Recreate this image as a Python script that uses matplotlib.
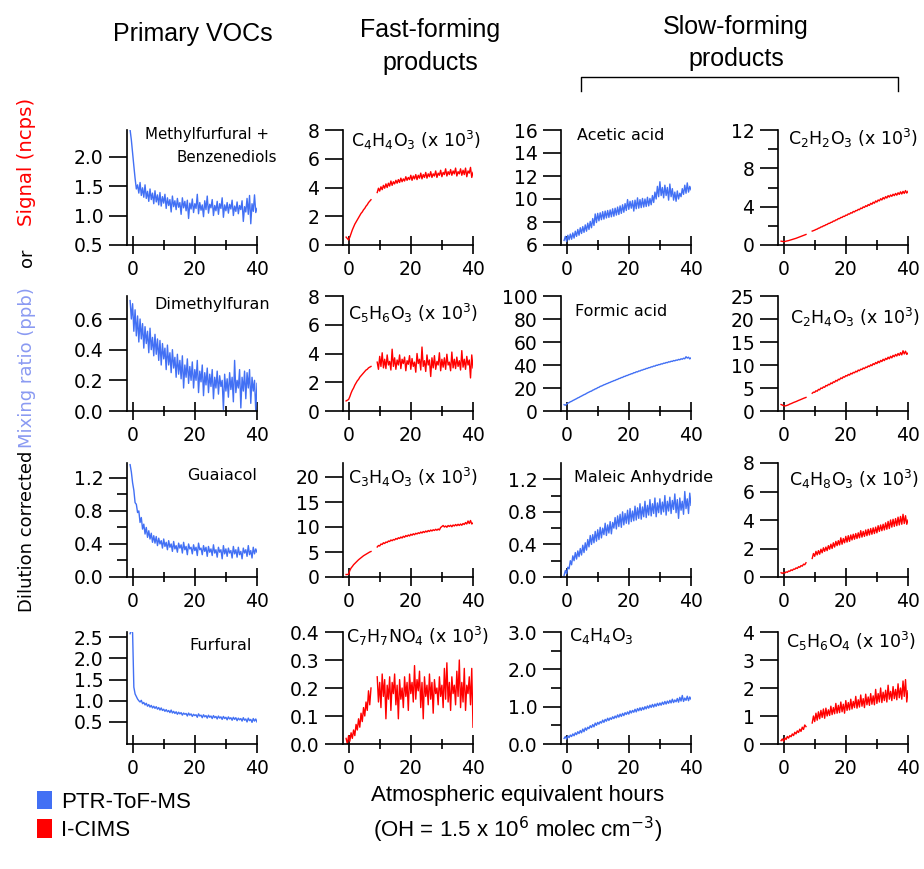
import numpy as np
import matplotlib.pyplot as plt
from matplotlib.patches import Patch
from matplotlib.lines import Line2D
from matplotlib.ticker import FixedLocator, FormatStrFormatter

nan = np.nan
W, H = 924, 869

# sampling grid, atmospheric equivalent hours
hours = np.round(np.arange(-0.8, 40.01, 0.4), 1)

# --- PTR-ToF-MS (ppb) ---
methylfurfural = [
    2.45, 2.28, 2.06, 1.84, 1.63, 1.45, 1.52, 1.38, 1.56, 1.34,
    1.47, 1.31, 1.52, 1.29, 1.41, 1.24, 1.45, 1.27, 1.38, 1.2,
    1.42, 1.23, 1.35, 1.18, 1.39, 1.16, 1.32, 1.21, 1.36, 1.12,
    1.3, 1.17, 1.27, 1.06, 1.33, 1.15, 1.25, 1.1, 1.29, 1.14,
    1.22, 1.02, 1.3, 1.13, 1.24, 1.08, 1.26, 0.95, 1.21, 1.11,
    1.28, 1.05, 1.2, 1.12, 1.36, 1.03, 1.22, 1.09, 1.18, 0.98,
    1.25, 1.1, 1.33, 1.04, 1.19, 1.13, 1.27, 1.0, 1.17, 1.08,
    1.24, 1.02, 1.2, 1.12, 1.3, 0.97, 1.18, 1.08, 1.22, 1.04,
    1.19, 1.11, 1.26, 1.0, 1.16, 1.07, 1.23, 1.03, 1.17, 1.1,
    1.25, 0.9, 1.15, 1.06, 1.29, 1.02, 1.34, 0.86, 1.2, 1.07,
    1.35, 1.05, 1.12]
dimethylfuran = [
    0.72, 0.6, 0.7, 0.52, 0.66, 0.49, 0.62, 0.45, 0.6, 0.47,
    0.57, 0.41, 0.55, 0.44, 0.52, 0.38, 0.54, 0.4, 0.48, 0.36,
    0.5, 0.37, 0.47, 0.33, 0.46, 0.3, 0.44, 0.34, 0.41, 0.27,
    0.43, 0.3, 0.38, 0.25, 0.4, 0.28, 0.35, 0.22, 0.37, 0.24,
    0.33, 0.21, 0.36, 0.15, 0.3, 0.22, 0.34, 0.18, 0.29, 0.2,
    0.32, 0.15, 0.27, 0.2, 0.33, 0.12, 0.26, 0.19, 0.3, 0.1,
    0.25, 0.17, 0.28, 0.12, 0.24, 0.16, 0.27, 0.08, 0.22, 0.15,
    0.26, 0.11, 0.23, 0.16, 0.2, 0.01, 0.24, 0.13, 0.21, 0.09,
    0.25, 0.14, 0.22, 0.06, 0.33, 0.12, 0.2, 0.15, 0.27, 0.02,
    0.22, 0.13, 0.26, 0.08, 0.25, 0.15, 0.27, 0.05, 0.22, 0.13,
    0.2, 0.0, 0.18]
guaiacol = [
    1.36, 1.27, 1.14, 1.05, 0.9, 0.88, 0.78, 0.8, 0.66, 0.72,
    0.58, 0.64, 0.52, 0.6, 0.48, 0.56, 0.46, 0.53, 0.42, 0.5,
    0.41, 0.49, 0.38, 0.47, 0.4, 0.44, 0.35, 0.46, 0.37, 0.42,
    0.33, 0.44, 0.36, 0.4, 0.31, 0.43, 0.34, 0.38, 0.3, 0.41,
    0.35, 0.39, 0.29, 0.42, 0.33, 0.37, 0.27, 0.4, 0.34, 0.36,
    0.28, 0.39, 0.32, 0.36, 0.26, 0.41, 0.33, 0.35, 0.27, 0.38,
    0.31, 0.36, 0.25, 0.37, 0.3, 0.34, 0.26, 0.39, 0.29, 0.33,
    0.24, 0.36, 0.3, 0.33, 0.22, 0.38, 0.28, 0.34, 0.25, 0.35,
    0.29, 0.32, 0.23, 0.37, 0.28, 0.33, 0.24, 0.36, 0.27, 0.31,
    0.22, 0.35, 0.29, 0.33, 0.25, 0.38, 0.27, 0.32, 0.23, 0.36,
    0.28, 0.34, 0.3]
furfural = [
    2.58, 2.68, 2.6, 1.32, 1.16, 1.1, 1.04, 1.0, 0.97, 1.01,
    0.93, 0.96, 0.9, 0.94, 0.87, 0.91, 0.85, 0.89, 0.83, 0.87,
    0.82, 0.86, 0.8, 0.84, 0.78, 0.83, 0.77, 0.8, 0.75, 0.79,
    0.74, 0.77, 0.72, 0.78, 0.71, 0.75, 0.7, 0.74, 0.68, 0.73,
    0.69, 0.72, 0.66, 0.71, 0.68, 0.7, 0.64, 0.71, 0.66, 0.69,
    0.63, 0.68, 0.65, 0.67, 0.61, 0.69, 0.64, 0.66, 0.6, 0.67,
    0.62, 0.65, 0.59, 0.66, 0.61, 0.64, 0.58, 0.65, 0.6, 0.63,
    0.57, 0.64, 0.59, 0.62, 0.56, 0.63, 0.58, 0.61, 0.55, 0.62,
    0.57, 0.6, 0.54, 0.61, 0.56, 0.6, 0.53, 0.59, 0.55, 0.58,
    0.52, 0.6, 0.54, 0.57, 0.5, 0.59, 0.53, 0.56, 0.49, 0.58,
    0.52, 0.57, 0.5]
acetic_acid = [
    6.4, 6.75, 6.3, 6.85, 6.45, 6.95, 6.5, 7.05, 6.6, 7.2,
    6.75, 7.35, 6.85, 7.5, 7.0, 7.6, 7.1, 7.75, 7.2, 7.9,
    7.35, 8.05, 7.5, 8.3, 7.7, 8.7, 7.95, 8.75, 8.1, 8.8,
    8.2, 8.9, 8.25, 8.95, 8.35, 9.0, 8.4, 9.05, 8.45, 9.15,
    8.5, 9.2, 8.6, 9.3, 8.65, 9.4, 8.75, 9.5, 8.85, 9.6,
    9.0, 9.95, 9.1, 9.8, 9.2, 9.85, 8.95, 9.9, 9.15, 10.1,
    9.2, 9.95, 9.25, 10.05, 9.3, 10.0, 9.35, 10.15, 9.4, 10.05,
    9.5, 10.3, 9.7, 10.6, 10.0, 11.1, 10.2, 11.5, 10.3, 11.0,
    10.1, 11.2, 10.3, 11.0, 9.9, 11.3, 10.2, 10.9, 9.9, 10.6,
    9.8, 10.7, 10.0, 10.5, 10.2, 10.9, 10.4, 11.2, 10.5, 11.4,
    10.6, 11.1, 10.8]
formic_acid = [
    5.5, 5.0, 6.0, 6.8, 7.3, 8.0, 8.4, 9.1, 9.6, 10.2,
    10.7, 11.4, 11.8, 12.5, 13.0, 13.6, 14.2, 14.6, 15.3, 15.9,
    16.4, 17.0, 17.3, 18.1, 18.5, 19.2, 19.5, 20.3, 20.6, 21.4,
    21.7, 22.2, 22.8, 23.1, 23.7, 24.0, 24.6, 24.9, 25.5, 25.8,
    26.4, 26.6, 27.3, 27.5, 28.2, 28.4, 29.1, 29.2, 30.0, 30.1,
    30.8, 30.9, 31.6, 31.8, 32.4, 32.5, 33.3, 33.3, 34.1, 34.0,
    34.8, 34.8, 35.5, 35.6, 36.2, 36.3, 37.0, 37.0, 37.7, 37.7,
    38.4, 38.4, 39.1, 39.0, 39.8, 39.7, 40.4, 40.3, 41.0, 40.9,
    41.6, 41.5, 42.2, 42.0, 42.8, 42.6, 43.3, 43.1, 43.9, 43.6,
    44.3, 44.1, 44.9, 44.5, 45.4, 45.0, 45.9, 45.4, 47.2, 46.0,
    46.8, 45.3, 46.2]
maleic_anhydride = [
    0.02, 0.08, 0.04, 0.12, 0.1, 0.2, 0.15, 0.26, 0.2, 0.3,
    0.22, 0.32, 0.25, 0.35, 0.27, 0.39, 0.3, 0.42, 0.33, 0.46,
    0.37, 0.51, 0.4, 0.52, 0.42, 0.56, 0.44, 0.58, 0.46, 0.61,
    0.48, 0.6, 0.52, 0.66, 0.51, 0.64, 0.54, 0.68, 0.53, 0.67,
    0.6, 0.73, 0.59, 0.75, 0.62, 0.77, 0.61, 0.8, 0.64, 0.78,
    0.66, 0.82, 0.65, 0.84, 0.68, 0.81, 0.69, 0.87, 0.7, 0.85,
    0.72, 0.9, 0.71, 0.86, 0.74, 0.93, 0.73, 0.88, 0.76, 0.95,
    0.75, 0.9, 0.78, 0.97, 0.74, 0.91, 0.79, 0.96, 0.77, 0.92,
    0.8, 1.0, 0.76, 0.93, 0.81, 0.98, 0.78, 0.94, 0.83, 1.02,
    0.79, 0.95, 0.72, 0.97, 0.82, 0.93, 0.77, 1.05, 0.84, 0.96,
    0.78, 1.03, 0.88]
c4h4o3_ptr = [
    0.15, 0.2, 0.13, 0.22, 0.17, 0.24, 0.2, 0.27, 0.22, 0.3,
    0.25, 0.33, 0.28, 0.36, 0.3, 0.4, 0.33, 0.43, 0.37, 0.45,
    0.41, 0.49, 0.44, 0.52, 0.46, 0.56, 0.5, 0.58, 0.53, 0.6,
    0.56, 0.64, 0.58, 0.66, 0.61, 0.69, 0.63, 0.7, 0.66, 0.73,
    0.68, 0.75, 0.7, 0.78, 0.72, 0.8, 0.74, 0.82, 0.76, 0.84,
    0.79, 0.86, 0.8, 0.89, 0.83, 0.9, 0.85, 0.93, 0.86, 0.95,
    0.89, 0.97, 0.9, 0.98, 0.92, 1.0, 0.94, 1.02, 0.96, 1.04,
    0.98, 1.06, 0.99, 1.07, 1.01, 1.09, 1.03, 1.1, 1.04, 1.12,
    1.06, 1.14, 1.07, 1.15, 1.09, 1.17, 1.1, 1.2, 1.11, 1.18,
    1.13, 1.22, 1.12, 1.25, 1.15, 1.3, 1.14, 1.23, 1.17, 1.28,
    1.16, 1.26, 1.2]

# --- I-CIMS (ncps x 10^3), gap while the instrument was off ---
c4h4o3_cims = [
    0.55, 0.45, 0.35, 0.55, 0.8, 1.05, 1.25, 1.45, 1.6, 1.75,
    1.9, 2.05, 2.2, 2.3, 2.45, 2.55, 2.7, 2.8, 2.95, 3.05,
    3.15, nan, nan, nan, nan, 3.65, 3.95, 3.75, 4.05, 3.85,
    4.15, 3.95, 4.25, 4.0, 4.3, 4.1, 4.45, 4.15, 4.4, 4.25,
    4.5, 4.3, 4.55, 4.35, 4.65, 4.4, 4.6, 4.45, 4.75, 4.5,
    4.7, 4.55, 4.85, 4.5, 4.8, 4.6, 4.9, 4.55, 4.85, 4.65,
    5.0, 4.6, 4.9, 4.7, 5.05, 4.65, 4.95, 4.75, 5.1, 4.7,
    4.95, 4.8, 5.15, 4.7, 5.0, 4.85, 5.2, 4.75, 5.05, 4.9,
    5.3, 4.8, 5.1, 4.9, 5.25, 4.85, 5.15, 4.95, 5.35, 4.8,
    5.1, 4.95, 5.3, 4.85, 5.2, 4.9, 5.35, 4.75, 5.15, 5.0,
    5.4, 4.7, 5.05]
c5h6o3 = [
    0.7, 0.75, 0.8, 1.0, 1.25, 1.45, 1.6, 1.8, 1.95, 2.1,
    2.2, 2.35, 2.45, 2.55, 2.65, 2.75, 2.85, 2.9, 3.0, 3.05,
    3.1, nan, nan, nan, nan, 3.4, 2.9, 3.8, 3.1, 4.05,
    3.0, 3.6, 2.95, 3.9, 3.2, 3.45, 2.85, 4.3, 3.1, 3.7,
    2.9, 3.55, 3.2, 3.9, 2.95, 3.6, 3.3, 3.75, 2.8, 3.5,
    3.25, 3.85, 2.9, 3.65, 3.1, 3.4, 2.7, 4.0, 3.3, 3.6,
    2.85, 4.45, 3.1, 3.5, 2.75, 3.9, 3.2, 3.55, 2.4, 3.7,
    3.0, 3.85, 2.9, 3.45, 3.2, 4.05, 2.8, 3.6, 3.05, 3.7,
    2.9, 3.95, 3.2, 3.4, 2.8, 4.1, 3.0, 3.6, 2.95, 3.75,
    3.1, 3.5, 2.85, 4.2, 3.05, 3.6, 2.9, 3.8, 3.2, 3.55,
    2.3, 3.9, 3.0]
c3h4o3 = [
    0.5, 0.5, 0.55, 1.3, 1.8, 2.1, 2.45, 2.7, 2.95, 3.2,
    3.45, 3.65, 3.85, 4.05, 4.25, 4.4, 4.55, 4.7, 4.85, 5.0,
    5.1, nan, nan, nan, nan, 6.0, 6.3, 6.2, 6.6, 6.5,
    6.85, 6.7, 7.0, 6.9, 7.2, 7.1, 7.4, 7.25, 7.5, 7.4,
    7.7, 7.55, 7.85, 7.7, 8.0, 7.8, 8.15, 7.95, 8.3, 8.1,
    8.4, 8.2, 8.55, 8.35, 8.65, 8.45, 8.75, 8.6, 8.85, 8.7,
    9.0, 8.8, 9.1, 8.9, 9.2, 9.0, 9.3, 9.1, 9.4, 9.2,
    9.45, 9.3, 9.55, 9.35, 9.6, 9.4, 9.9, 10.1, 10.3, 10.0,
    10.2, 9.95, 10.3, 10.1, 10.35, 10.05, 10.4, 10.2, 10.5, 10.25,
    10.55, 10.3, 10.6, 10.35, 10.7, 10.5, 10.9, 10.6, 11.2, 10.7,
    11.3, 10.6, 10.8]
c7h7no4 = [
    0.02, 0.0, 0.03, 0.01, 0.04, 0.02, 0.05, 0.03, 0.07, 0.05,
    0.09, 0.06, 0.11, 0.08, 0.13, 0.1, 0.15, 0.12, 0.19, 0.14,
    0.2, nan, nan, nan, nan, 0.24, 0.15, 0.22, 0.13, 0.25,
    0.17, 0.23, 0.09, 0.21, 0.16, 0.24, 0.12, 0.22, 0.18, 0.25,
    0.14, 0.21, 0.09, 0.23, 0.16, 0.2, 0.13, 0.24, 0.17, 0.22,
    0.12, 0.25, 0.18, 0.22, 0.15, 0.28, 0.16, 0.23, 0.19, 0.26,
    0.13, 0.22, 0.09, 0.24, 0.17, 0.21, 0.14, 0.25, 0.16, 0.22,
    0.11, 0.23, 0.18, 0.2, 0.14, 0.24, 0.17, 0.21, 0.13, 0.27,
    0.16, 0.29, 0.15, 0.22, 0.12, 0.24, 0.18, 0.21, 0.14, 0.26,
    0.17, 0.3, 0.13, 0.22, 0.15, 0.27, 0.12, 0.21, 0.18, 0.24,
    0.14, 0.27, 0.06]
c2h2o3 = [
    0.4, 0.38, 0.35, 0.37, 0.4, 0.43, 0.46, 0.5, 0.54, 0.58,
    0.62, 0.66, 0.7, 0.75, 0.8, 0.85, 0.9, 0.95, 1.0, 1.05,
    1.1, nan, nan, nan, nan, 1.45, 1.5, 1.55, 1.62, 1.66,
    1.75, 1.78, 1.88, 1.9, 2.0, 2.02, 2.12, 2.14, 2.25, 2.26,
    2.36, 2.38, 2.5, 2.5, 2.62, 2.63, 2.76, 2.75, 2.88, 2.87,
    3.0, 2.98, 3.12, 3.1, 3.25, 3.22, 3.37, 3.33, 3.5, 3.45,
    3.6, 3.58, 3.72, 3.68, 3.85, 3.8, 3.98, 3.92, 4.1, 4.02,
    4.22, 4.13, 4.35, 4.25, 4.47, 4.36, 4.6, 4.48, 4.7, 4.6,
    4.83, 4.7, 4.95, 4.8, 5.05, 4.9, 5.15, 5.0, 5.22, 5.08,
    5.3, 5.15, 5.38, 5.2, 5.45, 5.28, 5.55, 5.32, 5.6, 5.38,
    5.68, 5.42, 5.6]
c2h4o3 = [
    1.4, 1.3, 1.15, 1.1, 1.15, 1.25, 1.35, 1.5, 1.6, 1.72,
    1.85, 1.95, 2.05, 2.17, 2.3, 2.4, 2.52, 2.63, 2.75, 2.85,
    2.95, nan, nan, nan, nan, 3.85, 4.1, 4.05, 4.4, 4.3,
    4.7, 4.6, 5.0, 4.9, 5.25, 5.15, 5.55, 5.45, 5.8, 5.7,
    6.1, 5.95, 6.35, 6.25, 6.65, 6.5, 6.9, 6.8, 7.2, 7.05,
    7.45, 7.35, 7.7, 7.6, 7.95, 7.8, 8.2, 8.05, 8.4, 8.3,
    8.65, 8.5, 8.9, 8.75, 9.1, 9.0, 9.35, 9.2, 9.55, 9.45,
    9.8, 9.65, 10.05, 9.85, 10.3, 10.1, 10.55, 10.3, 10.8, 10.5,
    11.0, 10.75, 11.25, 10.95, 11.45, 11.2, 11.7, 11.35, 11.9, 11.55,
    12.1, 11.8, 12.3, 11.95, 12.5, 12.1, 12.7, 12.2, 13.1, 12.4,
    13.0, 12.3, 12.6]
c4h8o3 = [
    0.3, 0.25, 0.32, 0.28, 0.36, 0.33, 0.42, 0.4, 0.5, 0.46,
    0.56, 0.54, 0.64, 0.6, 0.72, 0.68, 0.8, 0.76, 0.9, 0.86,
    1.0, nan, nan, nan, nan, 1.3, 1.65, 1.45, 1.8, 1.55,
    1.85, 1.6, 1.95, 1.7, 2.05, 1.8, 2.1, 1.85, 2.2, 1.95,
    2.3, 2.0, 2.4, 2.1, 2.5, 2.2, 2.55, 2.25, 2.75, 2.3,
    2.7, 2.4, 2.85, 2.45, 2.9, 2.5, 2.95, 2.6, 3.0, 2.65,
    3.05, 2.7, 3.1, 2.75, 3.25, 2.8, 3.2, 2.85, 3.3, 2.9,
    3.35, 2.95, 3.4, 3.0, 3.45, 3.05, 3.5, 3.1, 3.6, 3.2,
    3.65, 3.25, 3.7, 3.3, 3.8, 3.35, 3.9, 3.4, 4.0, 3.5,
    4.05, 3.55, 4.1, 3.6, 4.2, 3.65, 4.25, 3.7, 4.4, 3.75,
    4.3, 3.7, 4.0]
c5h6o4 = [
    0.12, 0.18, 0.1, 0.22, 0.16, 0.27, 0.21, 0.3, 0.26, 0.36,
    0.3, 0.42, 0.36, 0.47, 0.41, 0.53, 0.45, 0.6, 0.52, 0.68,
    0.62, nan, nan, nan, nan, 0.75, 1.0, 0.8, 1.1, 0.85,
    1.15, 0.9, 1.2, 0.95, 1.25, 0.92, 1.28, 1.0, 1.22, 1.02,
    1.35, 1.05, 1.3, 1.08, 1.45, 1.1, 1.38, 1.12, 1.5, 1.15,
    1.42, 1.1, 1.55, 1.2, 1.48, 1.22, 1.6, 1.25, 1.52, 1.3,
    1.7, 1.28, 1.58, 1.32, 1.75, 1.35, 1.62, 1.3, 1.78, 1.4,
    1.68, 1.38, 1.8, 1.42, 1.72, 1.4, 1.95, 1.45, 1.8, 1.5,
    2.0, 1.48, 1.85, 1.55, 1.92, 1.5, 2.1, 1.6, 1.88, 1.55,
    2.05, 1.62, 1.95, 1.58, 2.15, 1.65, 2.0, 1.6, 2.25, 1.7,
    2.3, 1.5, 1.9]

BLUE = '#4270f4'
RED = '#ff0000'
LIGHTBLUE = '#8a9af2'

plt.rcParams['font.family'] = 'DejaVu Sans'
plt.rcParams['mathtext.fontset'] = 'dejavusans'

fig = plt.figure(figsize=(W / 100, H / 100), dpi=100)

col_left = [127, 343, 561, 778]
row_span = [(130, 245), (296, 411), (463, 577), (632, 744)]


def fx(x):
    return x / W


def fy(y):
    return 1 - y / H


NAME = 11.5
FORMULA = 12.5

# row, col, series, colour, ylim, major ticks, minor ticks, fmt, label, size, label centre (px)
panels = [
    (0, 0, methylfurfural, BLUE, (0.5, 2.45), [0.5, 1.0, 1.5, 2.0], [], '%.1f',
     'Methylfurfural +', 10.8, (207, 135)),
    (1, 0, dimethylfuran, BLUE, (0, 0.75), [0, 0.2, 0.4, 0.6], [], '%.1f',
     'Dimethylfuran', NAME, (212, 305)),
    (2, 0, guaiacol, BLUE, (0, 1.38), [0, 0.4, 0.8, 1.2], [0.2, 0.6, 1.0], '%.1f',
     'Guaiacol', NAME, (222, 476)),
    (3, 0, furfural, BLUE, (-0.02, 2.62), [0.5, 1.0, 1.5, 2.0, 2.5], [], '%.1f',
     'Furfural', NAME, (221, 645)),
    (0, 1, c4h4o3_cims, RED, (0, 8), [0, 2, 4, 6, 8], [], '%d',
     r'C$_4$H$_4$O$_3$ (x 10$^3$)', FORMULA, (416, 140)),
    (1, 1, c5h6o3, RED, (0, 8), [0, 2, 4, 6, 8], [], '%d',
     r'C$_5$H$_6$O$_3$ (x 10$^3$)', FORMULA, (413, 313)),
    (2, 1, c3h4o3, RED, (0, 22.8), [0, 5, 10, 15, 20], [], '%d',
     r'C$_3$H$_4$O$_3$ (x 10$^3$)', FORMULA, (413, 477)),
    (3, 1, c7h7no4, RED, (0, 0.4), [0, 0.1, 0.2, 0.3, 0.4], [], '%.1f',
     r'C$_7$H$_7$NO$_4$ (x 10$^3$)', FORMULA, (418, 636)),
    (0, 2, acetic_acid, BLUE, (6, 16), [6, 8, 10, 12, 14, 16], [], '%d',
     'Acetic acid', NAME, (621, 136)),
    (1, 2, formic_acid, BLUE, (0, 100), [0, 20, 40, 60, 80, 100], [], '%d',
     'Formic acid', NAME, (621, 312)),
    (2, 2, maleic_anhydride, BLUE, (0, 1.4), [0, 0.4, 0.8, 1.2], [0.2, 0.6, 1.0], '%.1f',
     'Maleic Anhydride', NAME, (644, 478)),
    (3, 2, c4h4o3_ptr, BLUE, (0, 3), [0, 1, 2, 3], [0.5, 1.5, 2.5], '%.1f',
     r'C$_4$H$_4$O$_3$', FORMULA, (601, 636)),
    (0, 3, c2h2o3, RED, (0, 12), [0, 4, 8, 12], [2, 6, 10], '%d',
     r'C$_2$H$_2$O$_3$ (x 10$^3$)', FORMULA, (853, 138)),
    (1, 3, c2h4o3, RED, (0, 25), [0, 5, 10, 15, 20, 25], [], '%d',
     r'C$_2$H$_4$O$_3$ (x 10$^3$)', FORMULA, (855, 317)),
    (2, 3, c4h8o3, RED, (0, 8), [0, 2, 4, 6, 8], [], '%d',
     r'C$_4$H$_8$O$_3$ (x 10$^3$)', FORMULA, (854, 479)),
    (3, 3, c5h6o4, RED, (0, 4), [0, 1, 2, 3, 4], [], '%d',
     r'C$_5$H$_6$O$_4$ (x 10$^3$)', FORMULA, (851, 641)),
]

for row, col, y, color, ylim, major, minor, fmt, label, size, (lx, ly) in panels:
    top, bot = row_span[row]
    ax = fig.add_axes([fx(col_left[col]), fy(bot), 130 / W, (bot - top) / H])
    ax.plot(hours, y, color=color, lw=1.0)
    ax.set_xlim(-1.8, 40)
    ax.set_ylim(*ylim)
    ax.spines['top'].set_visible(False)
    ax.spines['right'].set_visible(False)
    for s in ('left', 'bottom'):
        ax.spines[s].set_linewidth(1.2)
    ax.xaxis.set_major_locator(FixedLocator([0, 20, 40]))
    ax.xaxis.set_minor_locator(FixedLocator([10, 30]))
    ax.yaxis.set_major_locator(FixedLocator(major))
    ax.yaxis.set_minor_locator(FixedLocator(minor))
    ax.yaxis.set_major_formatter(FormatStrFormatter(fmt))
    ax.tick_params(axis='x', which='major', direction='inout', length=13, width=1.2,
                   labelsize=13.5, pad=4)
    ax.tick_params(axis='x', which='minor', direction='inout', length=6.5, width=1.2)
    ax.tick_params(axis='y', which='major', direction='out', length=13, width=1.2,
                   labelsize=13.5, pad=4)
    ax.tick_params(axis='y', which='minor', direction='out', length=7, width=1.2)
    ax.patch.set_alpha(0)
    fig.text(fx(lx), fy(ly), label, ha='center', va='center', fontsize=size)

fig.text(fx(227), fy(158), 'Benzenediols', ha='center', va='center', fontsize=10.8)

# column headings
head = dict(ha='center', va='center', fontsize=18, family='Liberation Sans')
fig.text(fx(193), fy(34), 'Primary VOCs', **head)
fig.text(fx(430), fy(30), 'Fast-forming', **head)
fig.text(fx(430), fy(63), 'products', **head)
fig.text(fx(736), fy(27), 'Slow-forming', **head)
fig.text(fx(736), fy(59), 'products', **head)
fig.add_artist(Line2D([fx(581), fx(581), fx(898), fx(898)],
                      [fy(91), fy(77), fy(77), fy(91)],
                      transform=fig.transFigure, color='black', lw=1.0))

# y axis title in three colours
ylab = dict(rotation=90, ha='center', va='bottom', fontsize=13)
fig.text(fx(27), fy(612), 'Dilution corrected', color='black', **ylab)
fig.text(fx(27), fy(448), 'Mixing ratio (ppb)', color=LIGHTBLUE, **ylab)
fig.text(fx(27), fy(267), 'or', color='black', **ylab)
fig.text(fx(27), fy(226), 'Signal (ncps)', color=RED, rotation=90, ha='center',
         va='bottom', fontsize=14.2)

# x axis title
xlab = dict(ha='center', va='center', fontsize=16, family='Liberation Sans')
fig.text(fx(518), fy(795), 'Atmospheric equivalent hours', **xlab)
fig.text(fx(518), fy(830), r'(OH = 1.5 x 10$^6$ molec cm$^{-3}$)', **xlab)

fig.legend(handles=[Patch(facecolor=BLUE, label='PTR-ToF-MS'),
                    Patch(facecolor=RED, label='I-CIMS')],
           loc='upper left', bbox_to_anchor=(fx(28), fy(782)), frameon=False,
           handlelength=0.7, handleheight=0.9, handletextpad=0.4, labelspacing=0.3,
           borderaxespad=0, prop={'family': 'Liberation Sans', 'size': 16})

fig.savefig('out.png', dpi=100)
